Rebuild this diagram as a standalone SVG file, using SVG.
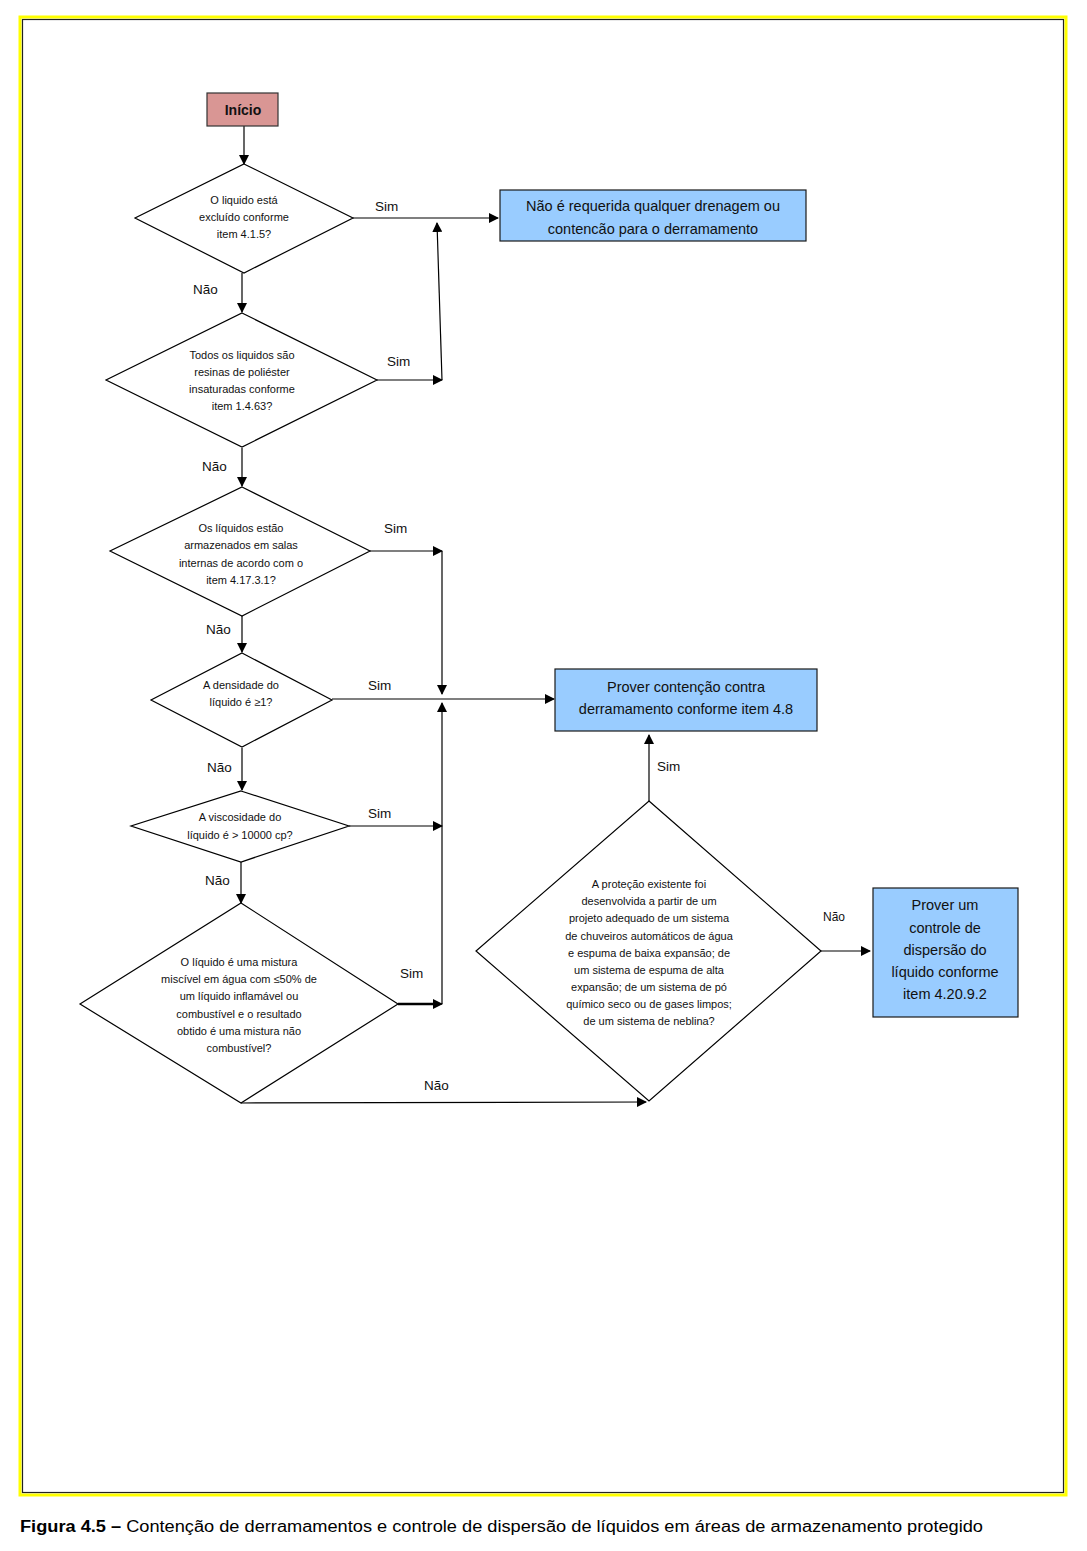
<svg xmlns="http://www.w3.org/2000/svg" width="1087" height="1551" viewBox="0 0 1087 1551">
<style>
.frame{fill:none;stroke:#ffff00;stroke-width:3}
.inner{fill:none;stroke:#222;stroke-width:1.2}
.dia{fill:#fff;stroke:#000;stroke-width:1.2}
.box{fill:#99ccff;stroke:#1a1a1a;stroke-width:1.2}
.start{fill:#d99694;stroke:#333;stroke-width:1.2}
.t{font-family:"Liberation Sans",Arial,sans-serif;fill:#111;text-anchor:middle}
.dt{font-size:11px}
.bt{font-size:14.5px}
.rt{font-size:11px}
.lbl{font-family:"Liberation Sans",Arial,sans-serif;font-size:13.5px;fill:#111}
.ln{fill:none;stroke:#000;stroke-width:1.2}
.thick{fill:none;stroke:#000;stroke-width:2.4}
.cap{font-family:"Liberation Sans",Arial,sans-serif;font-size:16px;fill:#000}
</style>
<defs>
<marker id="ah" viewBox="0 0 10 10" refX="9" refY="5" markerWidth="10" markerHeight="10" markerUnits="userSpaceOnUse" orient="auto">
<path d="M0,0 L10,5 L0,10 z" fill="#000"/>
</marker>
</defs>
<rect x="0" y="0" width="1087" height="1551" fill="#fff"/>
<rect class="frame" x="20" y="17" width="1046" height="1478"/>
<rect class="inner" x="22.5" y="19.5" width="1041" height="1473"/>

<g id="connectors">
<line class="ln" x1="244" y1="126" x2="244" y2="164" marker-end="url(#ah)"/>
<line class="ln" x1="353" y1="218" x2="498" y2="218" marker-end="url(#ah)"/>
<line class="ln" x1="442" y1="380" x2="437" y2="223" marker-end="url(#ah)"/>
<line class="ln" x1="242" y1="273" x2="242" y2="312" marker-end="url(#ah)"/>
<line class="ln" x1="377" y1="380" x2="442" y2="380" marker-end="url(#ah)"/>
<line class="ln" x1="242" y1="448" x2="242" y2="486" marker-end="url(#ah)"/>
<line class="ln" x1="370" y1="551" x2="442" y2="551" marker-end="url(#ah)"/>
<line class="ln" x1="442" y1="551" x2="442" y2="694" marker-end="url(#ah)"/>
<line class="ln" x1="242" y1="616" x2="242" y2="652" marker-end="url(#ah)"/>
<line class="ln" x1="332" y1="699" x2="554" y2="699" marker-end="url(#ah)"/>
<line class="ln" x1="442" y1="1004" x2="442" y2="703" marker-end="url(#ah)"/>
<line class="ln" x1="242" y1="748" x2="242" y2="790" marker-end="url(#ah)"/>
<line class="ln" x1="349" y1="826" x2="442" y2="826" marker-end="url(#ah)"/>
<line class="ln" x1="241" y1="862" x2="241" y2="903" marker-end="url(#ah)"/>
<line class="thick" x1="398" y1="1004" x2="434" y2="1004"/>
<line class="ln" x1="430" y1="1004" x2="442" y2="1004" marker-end="url(#ah)"/>
<line class="ln" x1="241" y1="1103" x2="646" y2="1102" marker-end="url(#ah)"/>
<line class="ln" x1="649" y1="801" x2="649" y2="735" marker-end="url(#ah)"/>
<line class="ln" x1="821" y1="951" x2="870" y2="951" marker-end="url(#ah)"/>
<text class="lbl" x="375" y="211">Sim</text>
<text class="lbl" x="193" y="294">Não</text>
<text class="lbl" x="387" y="366">Sim</text>
<text class="lbl" x="202" y="471">Não</text>
<text class="lbl" x="384" y="533">Sim</text>
<text class="lbl" x="206" y="634">Não</text>
<text class="lbl" x="368" y="690">Sim</text>
<text class="lbl" x="207" y="772">Não</text>
<text class="lbl" x="368" y="818">Sim</text>
<text class="lbl" x="205" y="885">Não</text>
<text class="lbl" x="400" y="978">Sim</text>
<text class="lbl" x="424" y="1090">Não</text>
<text class="lbl" x="657" y="771">Sim</text>
<text class="lbl" x="823" y="921" style="font-size:12px">Não</text>
</g>

<g id="inicio">
<rect class="start" x="207" y="93" width="71" height="33"/>
<text class="t" x="243" y="115" style="font-size:14px;font-weight:bold">Início</text>
</g>

<g id="d1">
<polygon class="dia" points="244,164 353,218 244,273 135,218"/>
<text class="t dt" x="244" y="204">O liquido está</text>
<text class="t dt" x="244" y="221">excluído conforme</text>
<text class="t dt" x="244" y="238">item 4.1.5?</text>
</g>

<g id="d2">
<polygon class="dia" points="242,313 377,380 242,447 106,380"/>
<text class="t dt" x="242" y="359">Todos os liquidos são</text>
<text class="t dt" x="242" y="376">resinas de poliéster</text>
<text class="t dt" x="242" y="393">insaturadas conforme</text>
<text class="t dt" x="242" y="410">item 1.4.63?</text>
</g>

<g id="d3">
<polygon class="dia" points="242,487 370,551 242,616 110,551"/>
<text class="t dt" x="241" y="532">Os líquidos estão</text>
<text class="t dt" x="241" y="549">armazenados em salas</text>
<text class="t dt" x="241" y="567">internas de acordo com o</text>
<text class="t dt" x="241" y="584">item 4.17.3.1?</text>
</g>

<g id="d4">
<polygon class="dia" points="242,653 332,700 242,747 151,700"/>
<text class="t dt" x="241" y="689">A densidade do</text>
<text class="t dt" x="241" y="706">líquido é ≥1?</text>
</g>

<g id="d5">
<polygon class="dia" points="241,791 349,826 241,862 131,826"/>
<text class="t dt" x="240" y="821">A viscosidade do</text>
<text class="t dt" x="240" y="839">líquido é &gt; 10000 cp?</text>
</g>

<g id="d6">
<polygon class="dia" points="241,903 398,1004 241,1103 80,1004"/>
<text class="t dt" x="239" y="966">O líquido é uma mistura</text>
<text class="t dt" x="239" y="983">miscível em água com ≤50% de</text>
<text class="t dt" x="239" y="1000">um líquido inflamável ou</text>
<text class="t dt" x="239" y="1018">combustível e o resultado</text>
<text class="t dt" x="239" y="1035">obtido é uma mistura não</text>
<text class="t dt" x="239" y="1052">combustível?</text>
</g>

<g id="d7">
<polygon class="dia" points="649,801 821,951 649,1101 476,951"/>
<text class="t rt" x="649" y="888">A proteção existente foi</text>
<text class="t rt" x="649" y="905">desenvolvida a partir de um</text>
<text class="t rt" x="649" y="922">projeto adequado de um sistema</text>
<text class="t rt" x="649" y="940">de chuveiros automáticos de água</text>
<text class="t rt" x="649" y="957">e espuma de baixa expansão; de</text>
<text class="t rt" x="649" y="974">um sistema de espuma de alta</text>
<text class="t rt" x="649" y="991">expansão; de um sistema de pó</text>
<text class="t rt" x="649" y="1008">químico seco ou de gases limpos;</text>
<text class="t rt" x="649" y="1025">de um sistema de neblina?</text>
</g>

<g id="b1">
<rect class="box" x="500" y="190" width="306" height="51"/>
<text class="t bt" x="653" y="211">Não é requerida qualquer drenagem ou</text>
<text class="t bt" x="653" y="234">contencão para o derramamento</text>
</g>

<g id="b2">
<rect class="box" x="555" y="669" width="262" height="62"/>
<text class="t bt" x="686" y="692">Prover contenção contra</text>
<text class="t bt" x="686" y="714">derramamento conforme item 4.8</text>
</g>

<g id="b3">
<rect class="box" x="873" y="888" width="145" height="129"/>
<text class="t bt" x="945" y="910">Prover um</text>
<text class="t bt" x="945" y="933">controle de</text>
<text class="t bt" x="945" y="955">dispersão do</text>
<text class="t bt" x="945" y="977">líquido conforme</text>
<text class="t bt" x="945" y="999">item 4.20.9.2</text>
</g>

<text class="cap" x="20" y="1532" textLength="963" lengthAdjust="spacingAndGlyphs"><tspan font-weight="bold">Figura 4.5 –</tspan> Contenção de derramamentos e controle de dispersão de líquidos em áreas de armazenamento protegido</text>
</svg>
